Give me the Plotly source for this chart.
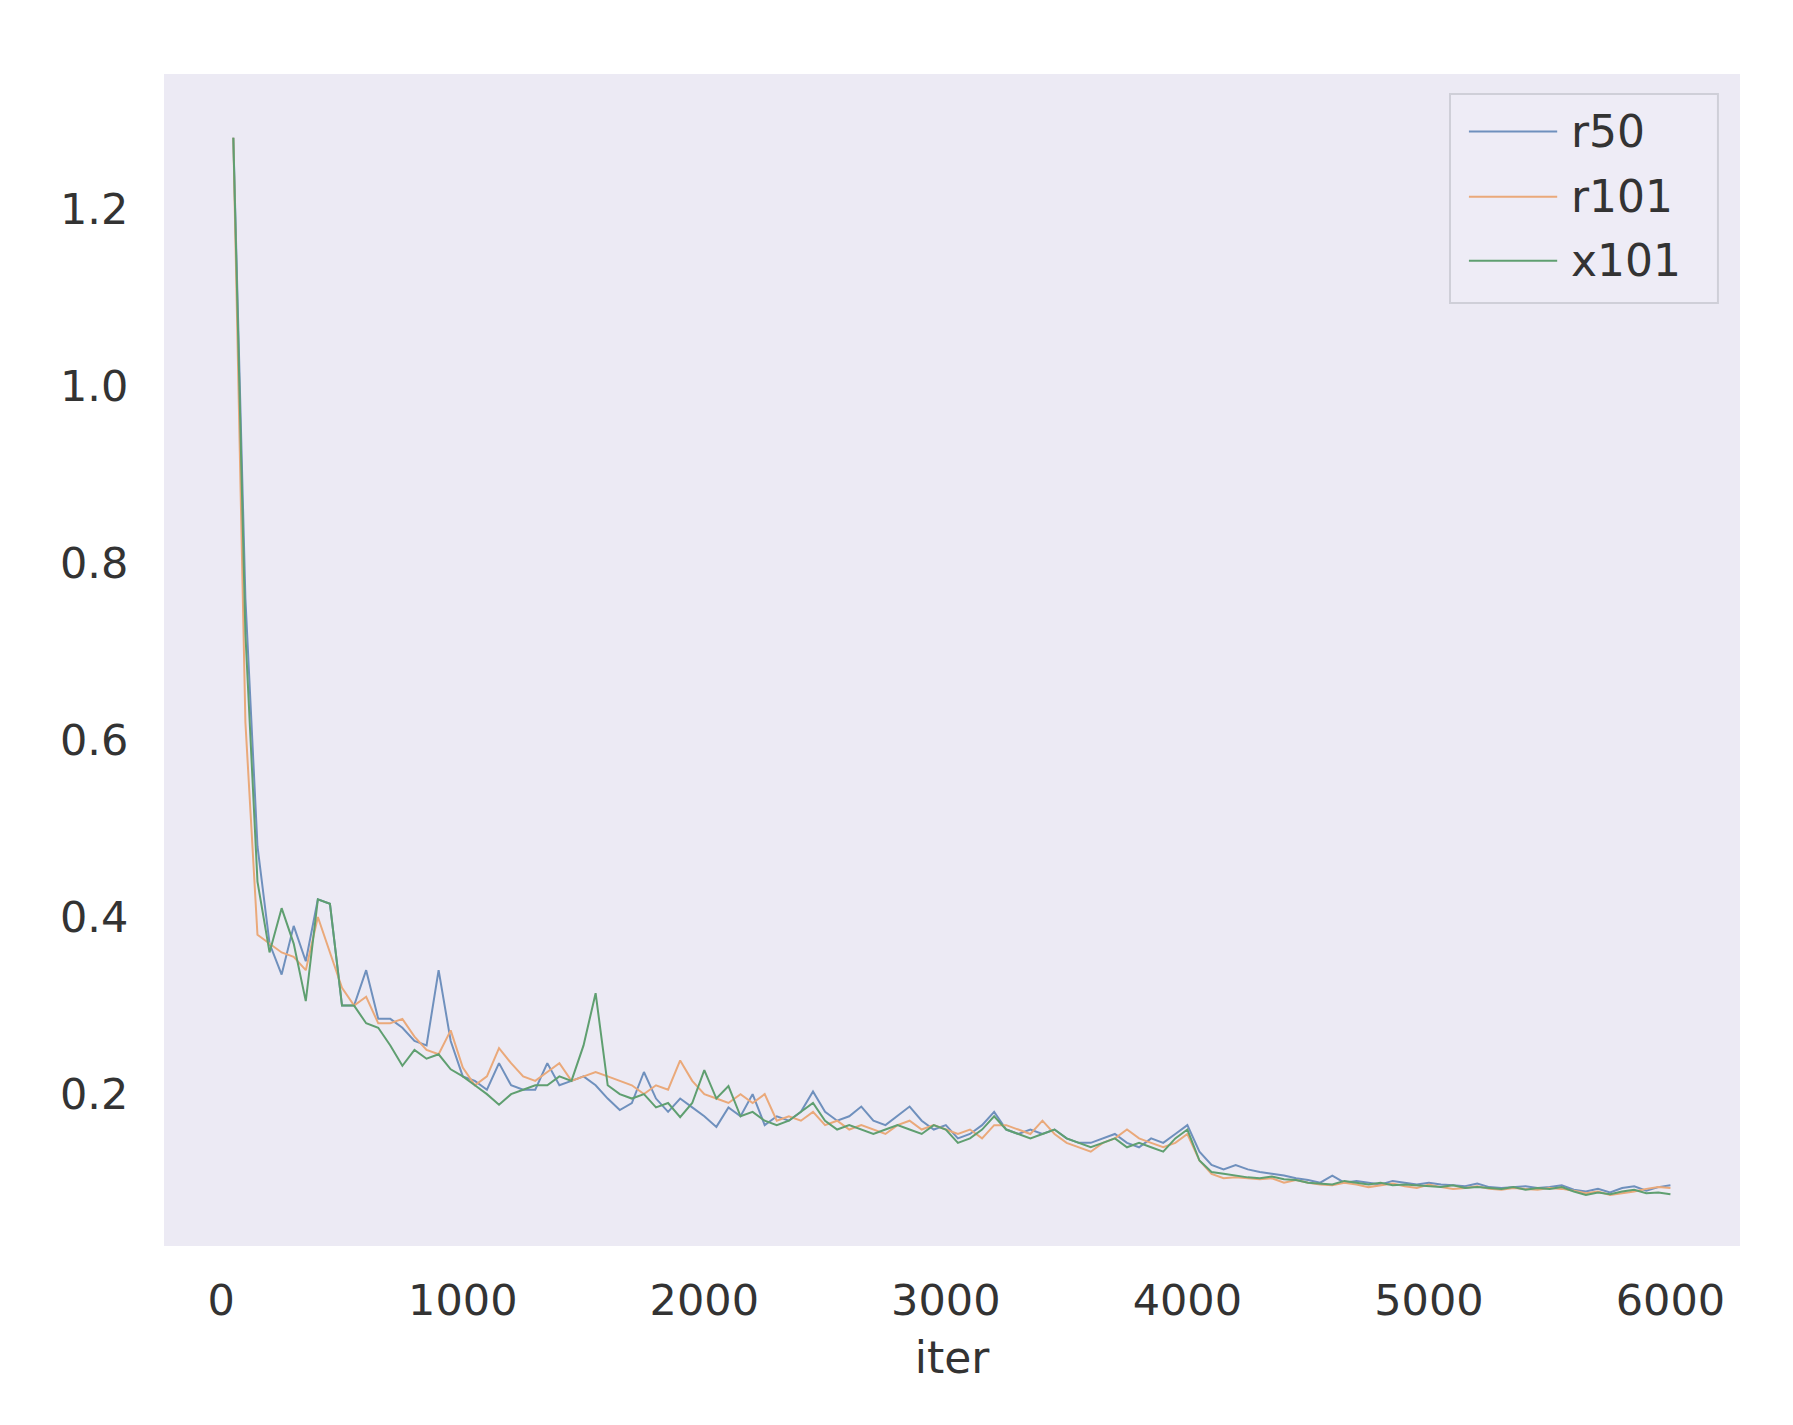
import plotly.graph_objects as go

iters = list(range(50, 6001, 50))

r50 = [1.28, 0.76, 0.48, 0.37, 0.335, 0.39, 0.35, 0.42, 0.415, 0.30,
       0.30, 0.34, 0.285, 0.285, 0.275, 0.26, 0.255, 0.34, 0.26, 0.22,
       0.215, 0.205, 0.235, 0.21, 0.205, 0.205, 0.235, 0.21, 0.215, 0.22,
       0.21, 0.195, 0.182, 0.19, 0.225, 0.195, 0.18, 0.195, 0.185, 0.175,
       0.163, 0.185, 0.175, 0.20, 0.165, 0.175, 0.17, 0.18, 0.203, 0.18,
       0.17, 0.175, 0.186, 0.17, 0.165, 0.175, 0.186, 0.17, 0.16, 0.165,
       0.15, 0.155, 0.165, 0.18, 0.16, 0.155, 0.16, 0.155, 0.16, 0.15,
       0.145, 0.145, 0.15, 0.155, 0.145, 0.14, 0.15, 0.145, 0.155, 0.165,
       0.135, 0.12, 0.115, 0.12, 0.115, 0.112, 0.11, 0.108, 0.105, 0.103,
       0.10, 0.108, 0.10, 0.102, 0.10, 0.098, 0.102, 0.10, 0.098, 0.10,
       0.098, 0.097, 0.096, 0.099, 0.095, 0.094, 0.095, 0.096, 0.094, 0.095,
       0.097, 0.092, 0.09, 0.093, 0.089, 0.094, 0.096, 0.091, 0.095, 0.097]

r101 = [1.28, 0.62, 0.38, 0.37, 0.36, 0.355, 0.34, 0.40, 0.36, 0.32,
        0.30, 0.31, 0.28, 0.28, 0.285, 0.265, 0.25, 0.245, 0.272, 0.23,
        0.21, 0.22, 0.252, 0.235, 0.22, 0.215, 0.225, 0.235, 0.215, 0.22,
        0.225, 0.22, 0.215, 0.21, 0.20, 0.21, 0.205, 0.238, 0.215, 0.20,
        0.195, 0.19, 0.20, 0.19, 0.20, 0.17, 0.175, 0.17, 0.18, 0.165,
        0.17, 0.16, 0.165, 0.16, 0.155, 0.165, 0.17, 0.16, 0.165, 0.16,
        0.155, 0.16, 0.15, 0.165, 0.165, 0.16, 0.155, 0.17, 0.155, 0.145,
        0.14, 0.135, 0.145, 0.15, 0.16, 0.15, 0.145, 0.14, 0.145, 0.155,
        0.125, 0.11, 0.105, 0.106, 0.105, 0.104, 0.105, 0.10, 0.103, 0.10,
        0.098, 0.097, 0.10, 0.098, 0.095, 0.097, 0.099, 0.096, 0.094, 0.098,
        0.095, 0.093, 0.094, 0.096, 0.093, 0.092, 0.094, 0.093, 0.092, 0.094,
        0.093, 0.091, 0.088, 0.09, 0.086, 0.088, 0.09, 0.093, 0.095, 0.094]

x101 = [1.28, 0.72, 0.44, 0.36, 0.41, 0.37, 0.305, 0.42, 0.415, 0.30,
        0.30, 0.28, 0.275, 0.255, 0.232, 0.25, 0.24, 0.245, 0.228, 0.22,
        0.21, 0.20, 0.188, 0.20, 0.205, 0.21, 0.21, 0.22, 0.215, 0.255,
        0.314, 0.21, 0.20, 0.195, 0.20, 0.185, 0.19, 0.174, 0.19, 0.227,
        0.195, 0.209, 0.175, 0.18, 0.17, 0.165, 0.17, 0.18, 0.19, 0.17,
        0.16, 0.165, 0.16, 0.155, 0.16, 0.165, 0.16, 0.155, 0.165, 0.16,
        0.145, 0.15, 0.16, 0.175, 0.16, 0.155, 0.15, 0.155, 0.16, 0.15,
        0.145, 0.14, 0.145, 0.15, 0.14, 0.145, 0.14, 0.135, 0.15, 0.16,
        0.125, 0.112, 0.11, 0.108, 0.106, 0.105, 0.107, 0.104, 0.103, 0.10,
        0.099, 0.098, 0.102, 0.10, 0.098, 0.10, 0.097, 0.098, 0.097, 0.096,
        0.095, 0.097, 0.094, 0.095, 0.094, 0.093, 0.095, 0.092, 0.094, 0.093,
        0.095, 0.09, 0.086, 0.089, 0.087, 0.09, 0.092, 0.088, 0.089, 0.087]

series_names = ["r50", "r101", "x101"]
series_values = [r50, r101, x101]
series_colors = ["#6f90bd", "#eaa97a", "#5f9f70"]

x_tickvals = [0, 1000, 2000, 3000, 4000, 5000, 6000]
y_tickvals = [0.2, 0.4, 0.6, 0.8, 1.0, 1.2]
y_ticktext = ["0.2", "0.4", "0.6", "0.8", "1.0", "1.2"]

font_family = "DejaVu Sans"
text_color = "#333333"

fig = go.Figure()
for name, vals, col in zip(series_names, series_values, series_colors):
    fig.add_trace(go.Scatter(x=iters, y=vals, mode="lines", name=name,
                             line=dict(color=col, width=2), showlegend=False))

# Legend drawn in paper coordinates (box, line samples, labels)
legend_box = dict(x0=0.816, x1=0.986, y0=0.8046, y1=0.983)
legend_rows = [0.951, 0.8953, 0.8407]
fig.add_shape(type="rect", xref="paper", yref="paper", layer="above",
              fillcolor="rgba(238,236,246,0.85)",
              line=dict(color="#cfcfd8", width=2), **legend_box)
for name, col, ry in zip(series_names, series_colors, legend_rows):
    fig.add_shape(type="line", xref="paper", yref="paper", layer="above",
                  x0=0.828, x1=0.884, y0=ry, y1=ry,
                  line=dict(color=col, width=2))
    fig.add_annotation(xref="paper", yref="paper", x=0.8915, y=ry,
                       xanchor="left", yanchor="middle", text=name,
                       showarrow=False,
                       font=dict(family=font_family, size=44, color=text_color))

fig.update_layout(
    width=1793, height=1425,
    margin=dict(l=156, r=61, t=66, b=187),
    paper_bgcolor="white",
    plot_bgcolor="#ECEAF4",
    font=dict(family=font_family, size=43, color=text_color),
    xaxis=dict(
        range=[-237, 6288], tickvals=x_tickvals,
        showgrid=False, zeroline=False, showline=False,
        ticks="outside", ticklen=16, tickcolor="rgba(0,0,0,0)",
        title=dict(text="iter", font=dict(size=44), standoff=18),
    ),
    yaxis=dict(
        range=[0.0285, 1.352], tickvals=y_tickvals, ticktext=y_ticktext,
        showgrid=False, zeroline=False, showline=False,
        ticks="outside", ticklen=26, tickcolor="rgba(0,0,0,0)",
    ),
)

fig.write_html("out.html")
